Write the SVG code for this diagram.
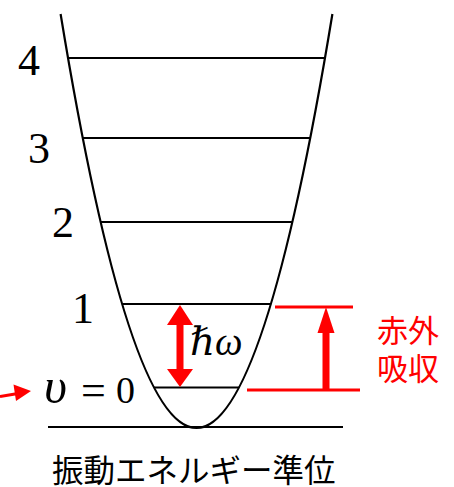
<svg xmlns="http://www.w3.org/2000/svg" width="454" height="487" viewBox="0 0 454 487">
<style>
.blk{stroke:#000;stroke-width:2.2;fill:none}
.red{stroke:#f00;stroke-width:3;fill:none}
.rf{fill:#f00;stroke:none}
.num{font-family:"Liberation Serif","Times New Roman",serif;font-size:44px;fill:#000}
.math{font-family:"Liberation Serif","DejaVu Serif",serif;font-style:italic;font-size:38px;fill:#000}
.jp{font-family:"Noto Sans CJK JP",sans-serif;fill:#f00;font-size:31px}
.cap{font-family:"Noto Sans CJK JP",sans-serif;fill:#000;font-size:31.5px}
</style>
<rect width="454" height="487" fill="#fff"/>
<g id="potential">
<path class="blk" d="M60.6,14 Q196.5,842 332.4,14"/>
<line class="blk" x1="48" y1="427" x2="343" y2="427"/>
</g>
<g id="level4"><line class="blk" x1="68" y1="58" x2="325" y2="58"/><text class="num" x="18" y="75">4</text></g>
<g id="level3"><line class="blk" x1="82.7" y1="138" x2="310.3" y2="138"/><text class="num" x="28" y="163">3</text></g>
<g id="level2"><line class="blk" x1="100.5" y1="222" x2="292.5" y2="222"/><text class="num" x="52" y="237">2</text></g>
<g id="level1"><line class="blk" x1="121.9" y1="304" x2="271.1" y2="304"/><text class="num" x="72" y="323">1</text></g>
<g id="level0"><line class="blk" x1="154" y1="387.5" x2="239" y2="387.5"/>
<text class="math" x="44" y="403" style="font-size:50px">υ</text>
<text class="num" x="81" y="405" style="font-size:44px">=</text>
<text class="num" x="116" y="403" style="font-size:38px">0</text>
</g>
<g id="connectors">
<g id="hbar-arrow">
<rect class="rf" x="176.5" y="323" width="7" height="49"/>
<polygon class="rf" points="180,305 193,325 167,325"/>
<polygon class="rf" points="180,387 193,369 167,369"/>
</g>
<text class="math" x="190" y="355" style="font-size:39px">ℏω</text>
<g id="ir-absorption">
<line class="red" x1="275" y1="307" x2="353" y2="307"/>
<line class="red" x1="247" y1="390" x2="360" y2="390"/>
<rect class="rf" x="322.5" y="331" width="7" height="58"/>
<polygon class="rf" points="326,307 334.5,333 317.5,333"/>
</g>
<g id="pointer">
<line class="red" x1="0" y1="396.5" x2="18" y2="393.5"/>
<polygon class="rf" points="31,391 13.5,384.5 16,401"/>
</g>
</g>
<g id="ir-label">
<text class="jp" x="377" y="342">赤外</text>
<text class="jp" x="377" y="380">吸収</text>
</g>
<text class="cap" x="52" y="482">振動エネルギー準位</text>
</svg>
